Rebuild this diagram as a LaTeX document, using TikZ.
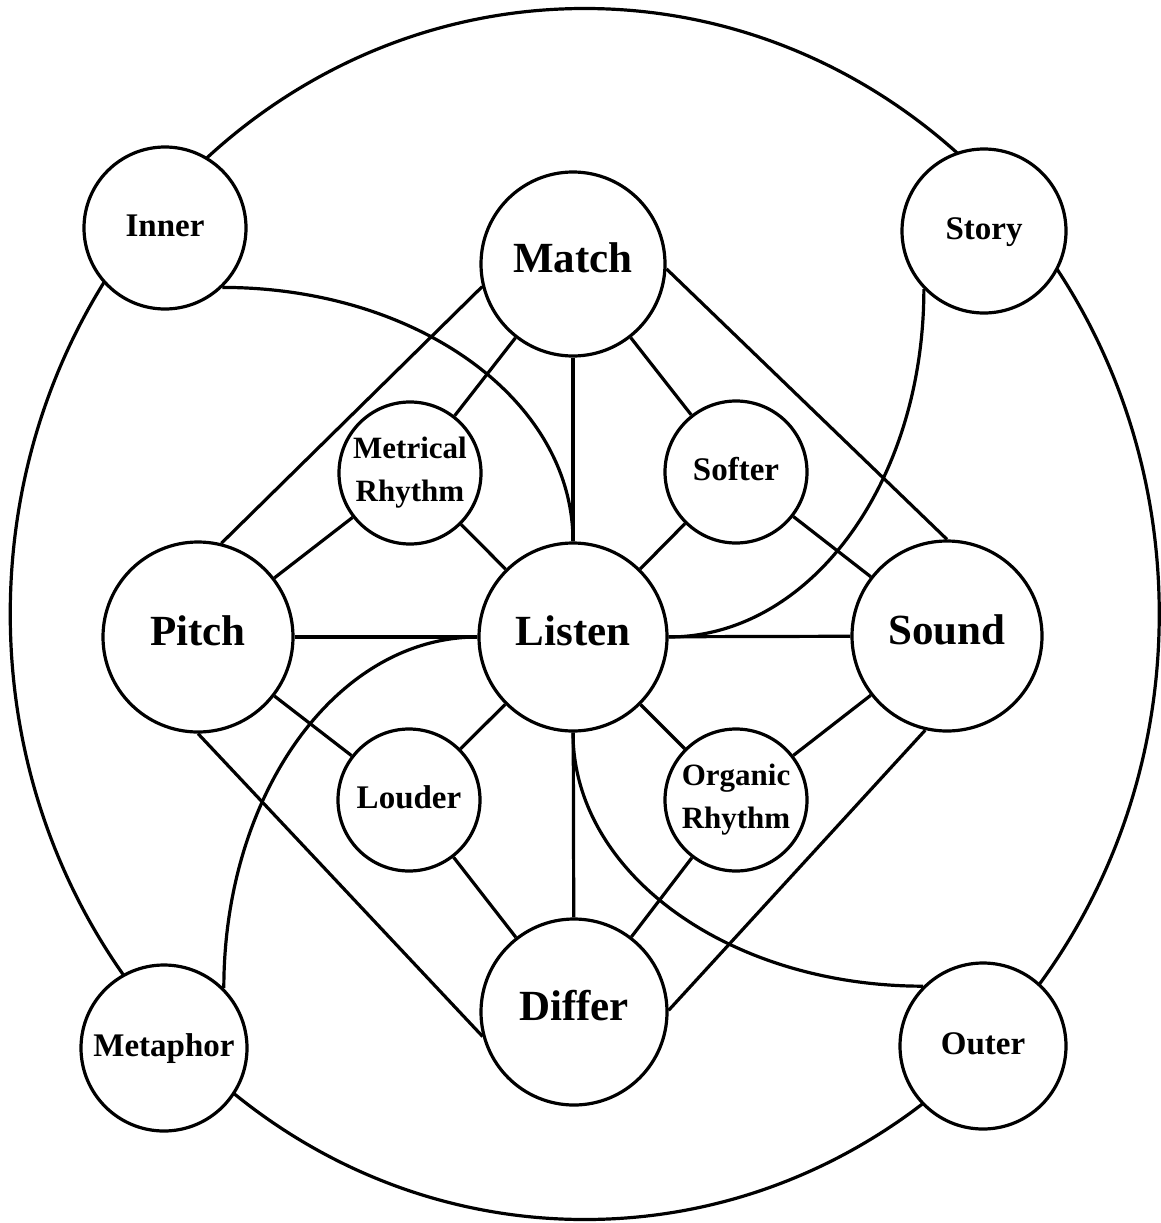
\documentclass[tikz,border=0pt]{standalone}
\usepackage{fontspec}
\setmainfont{Liberation Serif}
\begin{document}
\begin{tikzpicture}[x=1pt,y=-1pt,
  ln/.style={line width=3.2pt},
  nd/.style={circle,draw,fill=white,line width=3.2pt,inner sep=0pt},
  big/.style={nd,minimum size=#1pt,font=\bfseries\fontsize{43}{50}\selectfont,text height=28pt,text depth=11pt},
  small/.style={nd,minimum size=#1pt,font=\bfseries\fontsize{33}{40}\selectfont,text height=22pt,text depth=6pt},
  two/.style={nd,minimum size=#1pt,align=center,font=\bfseries\fontsize{31}{43}\selectfont}]
\useasboundingbox (0,0) rectangle (1161,1223);
% outer ring
\draw[ln] (584.75,614) ellipse [x radius=574.5pt, y radius=605.5pt];
% nodes
\node[big=184] (ma) at (573,264) {Match};
\node[big=190] (pi) at (198,637) {Pitch};
\node[big=188] (li) at (573,637) {Listen};
\node[big=190] (so) at (947,636) {Sound};
\node[big=186] (di) at (574,1012) {Differ};
\node[two=142] (mr) at (410,473) {Metrical\\Rhythm};
\node[small=142] (sf) at (736,472) {Softer};
\node[small=142] (lo) at (409,800) {Louder};
\node[two=142] (or) at (736,800) {Organic\\Rhythm};
\node[small=162] (in) at (165,228) {Inner};
\node[small=164] (st) at (984,231) {Story};
\node[small=166] (me) at (164,1048) {Metaphor};
\node[small=166] (ou) at (983,1046) {Outer};
% straight connectors
\draw[ln] (ma) -- (li);
\draw[ln] (li) -- (di);
\draw[ln] (pi) -- (li);
\draw[ln] (li) -- (so);
\draw[ln] (ma) -- (mr);
\draw[ln] (mr) -- (pi);
\draw[ln] (mr) -- (li);
\draw[ln] (ma) -- (sf);
\draw[ln] (sf) -- (li);
\draw[ln] (sf) -- (so);
\draw[ln] (pi) -- (lo);
\draw[ln] (lo) -- (li);
\draw[ln] (lo) -- (di);
\draw[ln] (li) -- (or);
\draw[ln] (or) -- (so);
\draw[ln] (or) -- (di);
\draw[ln] (ma.194) -- (pi.76);
\draw[ln] (ma.357) -- (so.90);
\draw[ln] (pi.270) -- (di.195);
\draw[ln] (so.257) -- (di.1);
% curved connectors
\draw[ln] (in.314) .. controls +(194,0) and +(0,-142) .. (li.north);
\draw[ln] (st.224) .. controls +(0,193) and +(142,0) .. (li.east);
\draw[ln] (li.west) .. controls +(-141,0) and +(0,-194) .. (me.45);
\draw[ln] (li.south) .. controls +(0,141) and +(-194,0) .. (ou.135);
\end{tikzpicture}
\end{document}
